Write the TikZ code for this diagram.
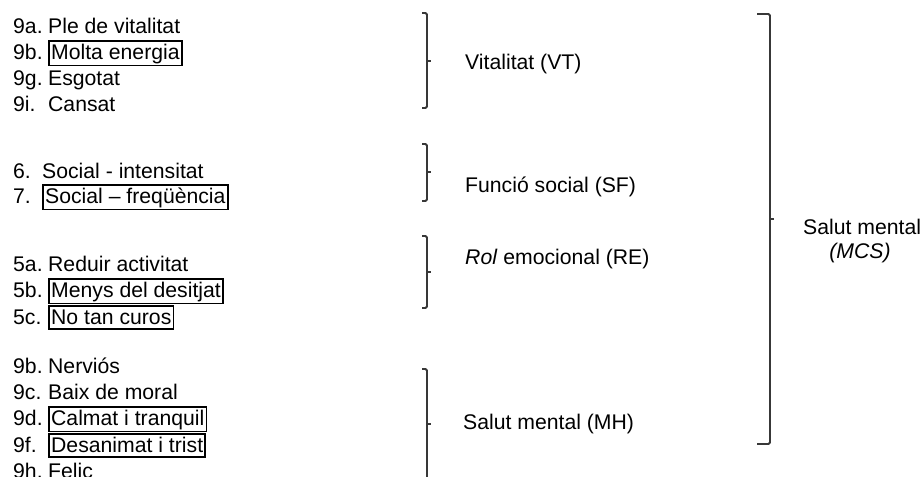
\documentclass[tikz,border=0pt]{standalone}
\usepackage{fontspec}
\setmainfont{Liberation Sans}

% item number column and boxed items
\newcommand{\num}[2][35pt]{\makebox[#1][l]{#2}}
\newcommand{\caixa}[1]{{\setlength{\fboxsep}{1.2pt}\setlength{\fboxrule}{1.8pt}%
  \fbox{\rule[-2.5pt]{0pt}{18.5pt}#1}}}

% right bracket: x, top, tip, bottom
\newcommand{\clau}[5][5]{%
  \draw[clau] (#2-#1,#3) -- (#2,#3) -- (#2,#5) -- (#2-#1,#5);
  \draw[clau] (#2,#4) -- (#2+4,#4);}

\begin{document}
\begin{tikzpicture}[x=1pt, y=-1pt,
  font=\fontsize{21.2}{25}\selectfont,
  item/.style={anchor=base west, inner sep=0pt},
  escala/.style={anchor=base west, inner sep=0pt},
  clau/.style={draw=black!78, line width=1.8pt, rounded corners=1.5pt}]

\useasboundingbox (0,0) rectangle (922,477);

% Vitalitat
\node[item] (vt1) at (13,33)  {\num{9a.}Ple de vitalitat};
\node[item] (vt2) at (13,59)  {\num{9b.}\caixa{Molta energia}};
\node[item] (vt3) at (13,85)  {\num{9g.}Esgotat};
\node[item] (vt4) at (13,111) {\num{9i.}Cansat};

% Funcio social
\node[item] (sf1) at (13,178) {\num[29pt]{6.}Social - intensitat};
\node[item] (sf2) at (13,203) {\num[29pt]{7.}\caixa{Social -- freqüència}};

% Rol emocional
\node[item] (re1) at (13,271) {\num{5a.}Reduir activitat};
\node[item] (re2) at (13,297) {\num{5b.}\caixa{Menys del desitjat}};
\node[item] (re3) at (13,324) {\num{5c.}\caixa{No tan curos}};

% Salut mental
\node[item] (mh1) at (13,373) {\num{9b.}Nerviós};
\node[item] (mh2) at (13,399) {\num{9c.}Baix de moral};
\node[item] (mh3) at (13,425) {\num{9d.}\caixa{Calmat i tranquil}};
\node[item] (mh4) at (13,452) {\num{9f.}\caixa{Desanimat i trist}};
\node[item] (mh5) at (13,478) {\num{9h.}Felic};

% brackets
\clau{427}{13}{61}{108}
\clau{427}{144}{172}{201}
\clau{427}{236}{272}{308}
\clau{427}{369}{424}{479}
\clau[13]{770}{14}{219}{444}

% scales
\node[escala] (vt) at (465,69)  {Vitalitat (VT)};
\node[escala] (sf) at (465,192) {Funció social (SF)};
\node[escala] (re) at (465,264) {\textit{Rol} emocional (RE)};
\node[escala] (mh) at (463,429) {Salut mental (MH)};
\node[escala] (mcs) at (803,234) {Salut mental};
\node[anchor=base, inner sep=0pt] (mcs2) at (860,258) {\textit{(MCS)}};

\end{tikzpicture}
\end{document}
